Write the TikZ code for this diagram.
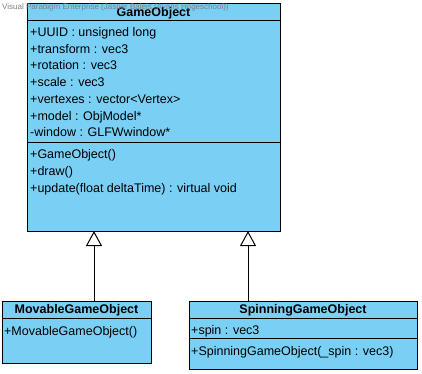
\documentclass[tikz,border=0pt]{standalone}
\usepackage{fontspec}
\setmainfont{Liberation Sans}
\usetikzlibrary{arrows.meta,positioning}
\definecolor{classblue}{RGB}{122,207,245}
\tikzset{
  classbox/.style={draw=black, fill=classblue, line width=1pt, anchor=north west,
    inner sep=0pt, outer sep=0pt},
  member/.style={anchor=base west, inner sep=0pt, font=\fontsize{12.5}{15}\selectfont},
  classname/.style={anchor=base, inner sep=0pt, font=\fontsize{12.5}{15}\selectfont\bfseries},
  generalization/.style={-{Triangle[open,length=15pt,width=16pt]}, line width=1pt},
}

\begin{document}
\begin{tikzpicture}[x=1pt,y=-1pt]
\useasboundingbox (0,0) rectangle (422,373);
% class boxes
\node[classbox, minimum width=253pt, minimum height=228pt] (game) at (27,3) {};
\node[classbox, minimum width=149pt, minimum height=62pt] (movable) at (2,301) {};
\node[classbox, minimum width=228pt, minimum height=68pt] (spinning) at (189,301) {};
% compartments
\draw[line width=1pt] (game.west |- 0,20) -- (game.east |- 0,20);
\draw[line width=1pt] (game.west |- 0,142) -- (game.east |- 0,142);
\draw[line width=1pt] (movable.west |- 0,318) -- (movable.east |- 0,318);
\draw[line width=1pt] (spinning.west |- 0,318) -- (spinning.east |- 0,318);
\draw[line width=1pt] (spinning.west |- 0,338) -- (spinning.east |- 0,338);
% GameObject
\node[classname] (gameName) at (153.5,16.5) {GameObject};
\foreach \txt [count=\i] in {{+UUID : unsigned long}, {+transform : vec3},
    {+rotation : vec3}, {+scale : vec3}, {+vertexes : vector<Vertex>},
    {+model : ObjModel*}, {-window : GLFWwindow*}}
  \node[member] (gameAttr\i) at (30,19.8+16.7*\i) {\txt};
\foreach \txt [count=\i] in {{+GameObject()}, {+draw()},
    {+update(float deltaTime) : virtual void}}
  \node[member] (gameOp\i) at (30,141.5+16.9*\i) {\txt};
% MovableGameObject
\node[classname] (movableName) at (76.5,313.3) {MovableGameObject};
\node[member] (movableOp1) at (4,335) {+MovableGameObject()};
% SpinningGameObject
\node[classname] (spinningName) at (303,313.3) {SpinningGameObject};
\node[member] (spinningAttr1) at (191,334.3) {+spin : vec3};
\node[member] (spinningOp1) at (191,355) {+SpinningGameObject(\_spin : vec3)};
% inheritance
\coordinate (movableTop) at (94,301);
\coordinate (spinningTop) at (248,301);
\draw[generalization] (movableTop) -- (movableTop |- game.south);
\draw[generalization] (spinningTop) -- (spinningTop |- game.south);
% watermark
\node[anchor=west, inner sep=0pt, text=gray, font=\fontsize{8}{8}\selectfont]
  (watermark) at (2,7) {Visual Paradigm Enterprise (Jasper Baleis (Avans Hogeschool))};
\end{tikzpicture}
\end{document}
